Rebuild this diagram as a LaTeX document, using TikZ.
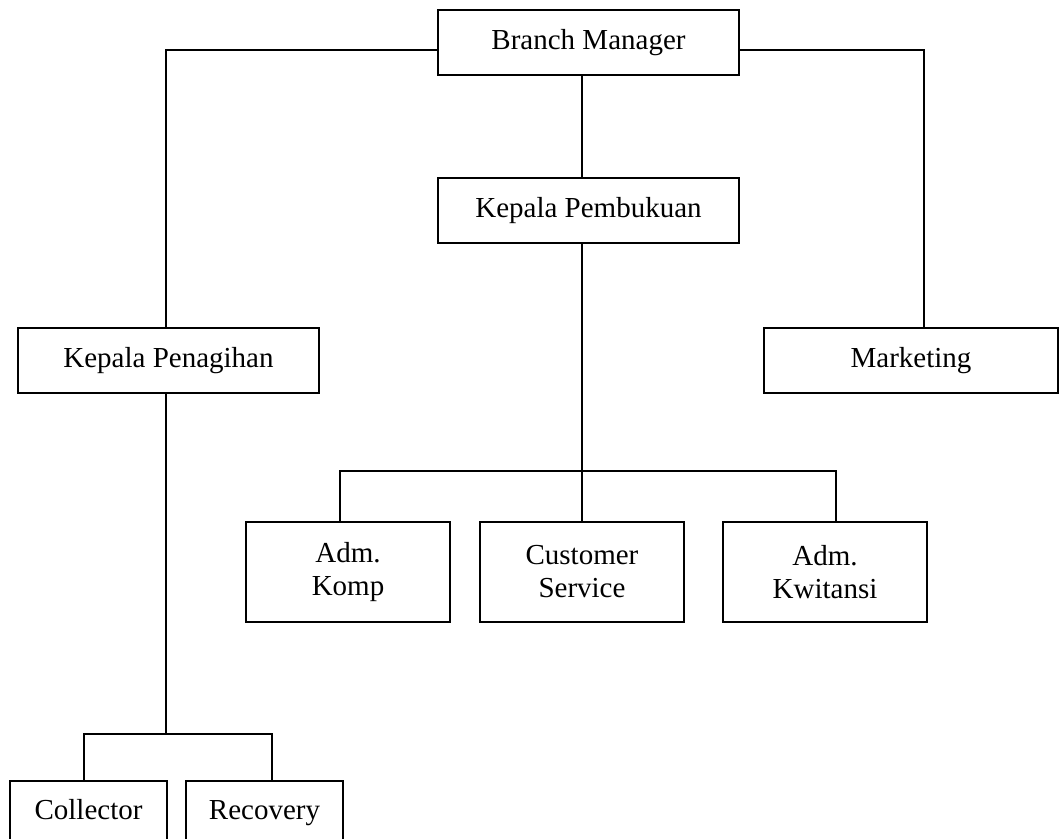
\documentclass[tikz,border=0pt]{standalone}
\usepackage{fontspec}
\setmainfont{Liberation Serif}
\begin{document}
\begin{tikzpicture}[x=1pt, y=-1pt, line width=1.2pt]
\tikzstyle{every node}=[draw, shape=rectangle, align=center, inner sep=0pt, font=\fontsize{29}{33}\selectfont];
\tikzstyle{wide}=[minimum width=301pt, minimum height=65pt, text height=20pt, text depth=7pt];
\tikzstyle{staff}=[minimum width=204pt, minimum height=100pt];
\tikzstyle{field}=[minimum width=157pt, minimum height=64pt, text height=20pt, text depth=7pt];
\useasboundingbox (0,0) rectangle (1059,838);
\node [wide] (bm) at (588.5,42.5) {Branch Manager};
\node [wide] (kpb) at (588.5,210.5) {Kepala Pembukuan};
\node [wide] (kpg) at (168.5,360.5) {Kepala Penagihan};
\node [wide, minimum width=294pt] (mkt) at (911,360.5) {Marketing};
\node [staff] (adk) at (348,572) {Adm.\\Komp};
\node [staff] (cs) at (582,572) {Customer\\Service};
\node [staff] (akw) at (825,572) {Adm.\\Kwitansi};
\node [field] (col) at (88.5,813) {Collector};
\node [field] (rec) at (264.5,813) {Recovery};
\coordinate (lc) at (166,50);
\coordinate (rc) at (924,50);
\coordinate (mc) at (582,471);
\coordinate (ml) at (340,471);
\coordinate (mr) at (836,471);
\coordinate (bc) at (166,734);
\coordinate (bl) at (84,734);
\coordinate (br) at (272,734);
\draw (bm.west |- lc) -- (lc) -- (lc |- kpg.north) % top
(bm.east |- rc) -- (rc) -- (rc |- mkt.north)
(bm.south -| mc) -- (kpb.north -| mc);
\draw (kpb.south -| mc) -- (mc) -- (cs.north -| mc) % pembukuan
(ml |- adk.north) -- (ml) -- (mr) -- (mr |- akw.north);
\draw (kpg.south -| bc) -- (bc) % penagihan
(bl |- col.north) -- (bl) -- (br) -- (br |- rec.north);
\end{tikzpicture}
\end{document}
